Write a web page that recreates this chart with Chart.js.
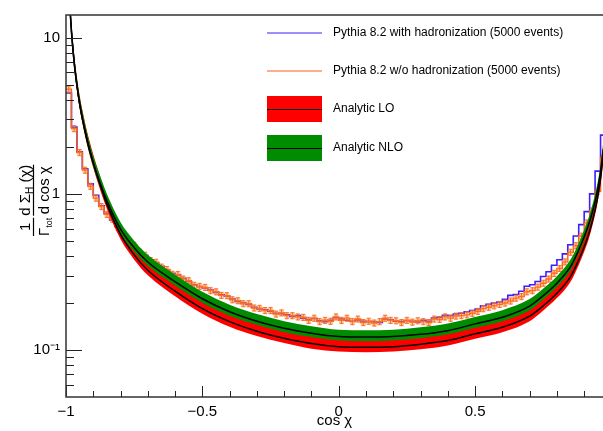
<!DOCTYPE html>
<html>
<head>
<meta charset="utf-8">
<script src="https://cdn.jsdelivr.net/npm/chart.js@4.4.1/dist/chart.umd.min.js"></script>
<style>
  html, body { margin: 0; padding: 0; background: #fff; }
</style>
</head>
<body>
<canvas id="monChart" width="603" height="431"></canvas>
<script>
// binning des histogrammes Pythia
const binStart = -1;
const binWidth = 0.02;

// Pythia 8.2 avec hadronisation (5000 events)
const avecHadronisation = [
  4.43, 2.68, 1.86, 1.45, 1.16, 0.98, 0.84, 0.75, 0.68, 0.62,
  0.551, 0.505, 0.466, 0.430, 0.403, 0.379, 0.361, 0.344, 0.325, 0.310,
  0.303, 0.288, 0.275, 0.262, 0.254, 0.250, 0.242, 0.234, 0.226, 0.222,
  0.212, 0.205, 0.200, 0.196, 0.188, 0.183, 0.181, 0.177, 0.172, 0.171,
  0.168, 0.164, 0.166, 0.160, 0.157, 0.159, 0.154, 0.152, 0.155, 0.161,
  0.158, 0.155, 0.153, 0.156, 0.153, 0.152, 0.151, 0.150, 0.158, 0.156,
  0.153, 0.152, 0.154, 0.153, 0.151, 0.155, 0.153, 0.160, 0.162, 0.167,
  0.166, 0.170, 0.172, 0.176, 0.179, 0.183, 0.192, 0.196, 0.200, 0.203,
  0.211, 0.224, 0.227, 0.238, 0.256, 0.262, 0.275, 0.296, 0.317, 0.349,
  0.379, 0.413, 0.472, 0.537, 0.636, 0.770, 1.00, 1.40, 2.38
];

// Pythia 8.2 sans hadronisation (5000 events)
const sansHadronisation = [
  4.69, 2.62, 1.84, 1.42, 1.12, 0.94, 0.83, 0.74, 0.69, 0.61,
  0.556, 0.500, 0.470, 0.425, 0.405, 0.375, 0.365, 0.340, 0.328, 0.306,
  0.305, 0.285, 0.278, 0.260, 0.256, 0.252, 0.240, 0.236, 0.224, 0.223,
  0.210, 0.207, 0.198, 0.198, 0.186, 0.185, 0.179, 0.179, 0.170, 0.173,
  0.166, 0.166, 0.163, 0.162, 0.155, 0.160, 0.152, 0.155, 0.153, 0.163,
  0.155, 0.160, 0.152, 0.158, 0.150, 0.153, 0.149, 0.152, 0.160, 0.155,
  0.154, 0.150, 0.155, 0.151, 0.154, 0.152, 0.150, 0.158, 0.157, 0.163,
  0.160, 0.165, 0.166, 0.168, 0.172, 0.177, 0.184, 0.188, 0.192, 0.196,
  0.200, 0.206, 0.215, 0.220, 0.236, 0.240, 0.253, 0.268, 0.285, 0.310,
  0.333, 0.367, 0.423, 0.466, 0.537, 0.652, 0.778, 1.04, 1.70
];
const erreurRelative = 0.045;

// courbes analytiques (valeur centrale + bande)
const cosChi = [-0.985, -0.98, -0.97, -0.96, -0.95, -0.94, -0.92, -0.9, -0.88, -0.85,
  -0.8, -0.75, -0.7, -0.6, -0.5, -0.4, -0.3, -0.2, -0.1, 0,
  0.1, 0.2, 0.3, 0.4, 0.5, 0.6, 0.7, 0.75, 0.8, 0.85,
  0.88, 0.9, 0.92, 0.94, 0.95, 0.96, 0.97];
const lo = [15.1, 11.0, 6.94, 4.97, 3.79, 3.05, 2.12, 1.58, 1.22, 0.86,
  0.55, 0.407, 0.324, 0.238, 0.184, 0.152, 0.132, 0.119, 0.110, 0.105,
  0.104, 0.105, 0.109, 0.115, 0.127, 0.140, 0.165, 0.192, 0.231, 0.295,
  0.377, 0.458, 0.579, 0.790, 0.964, 1.25, 1.76];
const loHaut = [17.1, 12.4, 7.84, 5.62, 4.28, 3.45, 2.40, 1.79, 1.38, 0.972,
  0.622, 0.460, 0.366, 0.269, 0.208, 0.172, 0.149, 0.134, 0.124, 0.119,
  0.118, 0.119, 0.123, 0.130, 0.144, 0.158, 0.186, 0.217, 0.261, 0.333,
  0.426, 0.518, 0.654, 0.893, 1.09, 1.41, 1.99];
const loBas = [14.0, 10.2, 6.45, 4.62, 3.52, 2.84, 1.97, 1.47, 1.13, 0.800,
  0.512, 0.379, 0.301, 0.221, 0.171, 0.141, 0.123, 0.111, 0.102, 0.0977,
  0.0967, 0.0977, 0.101, 0.107, 0.118, 0.130, 0.153, 0.179, 0.215, 0.274,
  0.351, 0.426, 0.538, 0.735, 0.897, 1.16, 1.64];
const nlo = [15.1, 11.0, 6.94, 4.97, 3.79, 3.05, 2.12, 1.58, 1.24, 0.903,
  0.594, 0.452, 0.366, 0.274, 0.213, 0.176, 0.153, 0.138, 0.128, 0.122,
  0.121, 0.122, 0.126, 0.133, 0.147, 0.162, 0.191, 0.223, 0.268, 0.342,
  0.437, 0.531, 0.666, 0.893, 1.08, 1.39, 1.94];
const nloHaut = [16.8, 12.2, 7.70, 5.52, 4.21, 3.39, 2.35, 1.75, 1.38, 1.00,
  0.659, 0.502, 0.406, 0.304, 0.236, 0.195, 0.170, 0.153, 0.142, 0.135,
  0.134, 0.135, 0.140, 0.148, 0.163, 0.180, 0.212, 0.248, 0.297, 0.380,
  0.485, 0.589, 0.739, 0.991, 1.20, 1.54, 2.15];
const nloBas = [14.3, 10.4, 6.56, 4.70, 3.58, 2.88, 2.00, 1.49, 1.17, 0.853,
  0.561, 0.427, 0.346, 0.259, 0.201, 0.166, 0.145, 0.130, 0.121, 0.115,
  0.114, 0.115, 0.119, 0.126, 0.139, 0.153, 0.180, 0.211, 0.253, 0.323,
  0.413, 0.502, 0.629, 0.844, 1.02, 1.31, 1.83];

// axes
const xTicks = [-1, -0.5, 0, 0.5];
const xMinorTicks = [-0.9, -0.8, -0.7, -0.6, -0.4, -0.3, -0.2, -0.1, 0.1, 0.2, 0.3, 0.4, 0.6, 0.7, 0.8, 0.9];
const yTicks = [0.1, 1, 10];
const yTickLabels = ['10\u207B\u00B9', '1', '10'];
const yMinorTicks = [0.06, 0.07, 0.08, 0.09, 0.2, 0.3, 0.4, 0.5, 0.6, 0.7, 0.8, 0.9, 2, 3, 4, 5, 6, 7, 8, 9];

const FONT = '"Liberation Sans", Arial, Helvetica, sans-serif';
const BLEU = 'rgb(60, 30, 255)';
const ORANGE = 'rgb(255, 95, 15)';
const ROUGE = '#ff0000';
const VERT = '#008c00';

function histoPoints(vals) {
  const pts = vals.map((v, i) => ({ x: binStart + i * binWidth, y: v }));
  pts.push({ x: binStart + vals.length * binWidth, y: vals[vals.length - 1] });
  return pts;
}
function courbePoints(vals) {
  return vals.map((v, i) => ({ x: cosChi[i], y: v }));
}

// barres d'erreur de l'histogramme orange
const erreursPlugin = {
  id: 'erreurs',
  afterDatasetDraw(chart, args) {
    if (args.index !== 1) return;
    const { ctx, chartArea: a, scales: { x, y } } = chart;
    ctx.save();
    ctx.beginPath();
    ctx.rect(a.left, a.top, a.right - a.left, a.bottom - a.top);
    ctx.clip();
    sansHadronisation.forEach((v, i) => {
      const cx = x.getPixelForValue(binStart + (i + 0.5) * binWidth);
      const yh = y.getPixelForValue(v * (1 + erreurRelative));
      const yb = y.getPixelForValue(v * (1 - erreurRelative));
      ctx.fillStyle = 'rgba(255, 140, 60, 0.45)';
      ctx.fillRect(cx - 2.5, yh, 5, yb - yh);
      ctx.strokeStyle = 'rgba(255, 100, 20, 0.9)';
      ctx.lineWidth = 1;
      ctx.beginPath();
      ctx.moveTo(cx, yh); ctx.lineTo(cx, yb);
      ctx.moveTo(cx - 2, yh); ctx.lineTo(cx + 2, yh);
      ctx.moveTo(cx - 2, yb); ctx.lineTo(cx + 2, yb);
      ctx.stroke();
    });
    ctx.restore();
  }
};

// cadre + graduations style ROOT (vers l'intérieur)
const cadrePlugin = {
  id: 'cadre',
  afterDatasetsDraw(chart) {
    const { ctx, chartArea: a, scales: { x, y } } = chart;
    ctx.save();
    ctx.strokeStyle = '#222';
    ctx.lineWidth = 1;
    ctx.beginPath();
    yTicks.forEach(v => { const p = Math.round(y.getPixelForValue(v)) + 0.5; ctx.moveTo(a.left, p); ctx.lineTo(a.left + 16, p); });
    yMinorTicks.forEach(v => { const p = Math.round(y.getPixelForValue(v)) + 0.5; ctx.moveTo(a.left, p); ctx.lineTo(a.left + 8, p); });
    xTicks.forEach(v => { const p = Math.round(x.getPixelForValue(v)) + 0.5; ctx.moveTo(p, a.bottom); ctx.lineTo(p, a.bottom - 11); });
    xMinorTicks.forEach(v => { const p = Math.round(x.getPixelForValue(v)) + 0.5; ctx.moveTo(p, a.bottom); ctx.lineTo(p, a.bottom - 6); });
    ctx.stroke();
    ctx.lineWidth = 1.5;
    ctx.strokeStyle = '#333';
    ctx.beginPath();
    ctx.moveTo(a.right, a.top); ctx.lineTo(a.left, a.top);
    ctx.lineTo(a.left, a.bottom); ctx.lineTo(a.right, a.bottom);
    ctx.stroke();
    ctx.restore();
  }
};

// légende style TLegend
const legendePlugin = {
  id: 'legende',
  afterDraw(chart) {
    const { ctx } = chart;
    const ds = chart.data.datasets;
    const x0 = 267, x1 = 322, xt = 333;
    ctx.save();
    ctx.font = '12px ' + FONT;
    ctx.textBaseline = 'middle';
    ctx.fillStyle = '#000';

    ctx.strokeStyle = BLEU; ctx.lineWidth = 1.2;
    ctx.beginPath(); ctx.moveTo(x0, 33); ctx.lineTo(x1, 33); ctx.stroke();
    ctx.fillText(ds[0].label, xt, 33);

    ctx.strokeStyle = ORANGE; ctx.lineWidth = 1.2;
    ctx.beginPath(); ctx.moveTo(x0, 71); ctx.lineTo(x1, 71); ctx.stroke();
    ctx.fillText(ds[1].label, xt, 71);

    [[2, ROUGE, 109], [4, VERT, 148]].forEach(([i, c, yc]) => {
      ctx.fillStyle = c;
      ctx.fillRect(x0, yc - 13, x1 - x0, 26);
      ctx.strokeStyle = '#000'; ctx.lineWidth = 1;
      ctx.beginPath(); ctx.moveTo(x0, yc + 0.5); ctx.lineTo(x1, yc + 0.5); ctx.stroke();
      ctx.fillStyle = '#000';
      ctx.fillText(ds[i].label, xt, yc);
    });
    ctx.restore();
  }
};

// titre de l'axe y : 1/Γ_tot dΣ_H(χ)/d cos χ
function largeur(ctx, runs) {
  let w = 0;
  runs.forEach(r => { ctx.font = r.s + 'px ' + FONT; w += ctx.measureText(r.t).width; });
  return w;
}
function ecrire(ctx, runs, u, base) {
  runs.forEach(r => {
    ctx.font = r.s + 'px ' + FONT;
    ctx.fillText(r.t, u, base + (r.dy || 0));
    u += ctx.measureText(r.t).width;
  });
}
function fraction(ctx, num, den, u0) {
  const wn = largeur(ctx, num), wd = largeur(ctx, den);
  const w = Math.max(wn, wd);
  ecrire(ctx, num, u0 + (w - wn) / 2, -4);
  ecrire(ctx, den, u0 + (w - wd) / 2, 15);
  ctx.lineWidth = 1.2;
  ctx.beginPath(); ctx.moveTo(u0, 0); ctx.lineTo(u0 + w, 0); ctx.stroke();
  return u0 + w;
}
const titreYPlugin = {
  id: 'titreY',
  afterDraw(chart) {
    const { ctx } = chart;
    ctx.save();
    ctx.translate(33.5, 236);
    ctx.rotate(-Math.PI / 2);
    ctx.fillStyle = '#000';
    ctx.strokeStyle = '#000';
    ctx.textBaseline = 'alphabetic';
    let u = fraction(ctx, [{ t: '1', s: 15 }], [{ t: '\u0393', s: 15 }, { t: 'tot', s: 9, dy: 3 }], 0);
    fraction(ctx,
      [{ t: 'd ', s: 15 }, { t: '\u03A3', s: 15 }, { t: 'H', s: 10, dy: 3 }, { t: ' (\u03C7)', s: 15 }],
      [{ t: 'd cos \u03C7', s: 15 }], u + 2);
    ctx.restore();
  }
};

const ctx = document.getElementById('monChart').getContext('2d');
new Chart(ctx, {
  type: 'line',
  data: {
    datasets: [
      { label: 'Pythia 8.2 with hadronization (5000 events)', data: histoPoints(avecHadronisation),
        borderColor: BLEU, borderWidth: 1.6, stepped: true, pointRadius: 0, fill: false, order: 5 },
      { label: 'Pythia 8.2 w/o hadronization (5000 events)', data: histoPoints(sansHadronisation),
        borderColor: ORANGE, borderWidth: 1.4, stepped: true, pointRadius: 0, fill: false, order: 4 },
      { label: 'Analytic LO', data: courbePoints(loHaut), borderColor: 'rgba(0,0,0,0)', borderWidth: 0,
        backgroundColor: ROUGE, fill: '+1', cubicInterpolationMode: 'monotone', pointRadius: 0, order: 3 },
      { label: 'LO bas', data: courbePoints(loBas), borderColor: 'rgba(0,0,0,0)', borderWidth: 0,
        fill: false, cubicInterpolationMode: 'monotone', pointRadius: 0, order: 3 },
      { label: 'Analytic NLO', data: courbePoints(nloHaut), borderColor: 'rgba(0,0,0,0)', borderWidth: 0,
        backgroundColor: VERT, fill: '+1', cubicInterpolationMode: 'monotone', pointRadius: 0, order: 2 },
      { label: 'NLO bas', data: courbePoints(nloBas), borderColor: 'rgba(0,0,0,0)', borderWidth: 0,
        fill: false, cubicInterpolationMode: 'monotone', pointRadius: 0, order: 2 },
      { label: 'LO', data: courbePoints(lo), borderColor: '#000', borderWidth: 1.5,
        fill: false, cubicInterpolationMode: 'monotone', pointRadius: 0, order: 1 },
      { label: 'NLO', data: courbePoints(nlo), borderColor: '#000', borderWidth: 1.5,
        fill: false, cubicInterpolationMode: 'monotone', pointRadius: 0, order: 0 }
    ]
  },
  options: {
    responsive: false,
    animation: false,
    devicePixelRatio: 1,
    layout: { padding: { top: 5, right: 0, bottom: 0, left: 0 } },
    plugins: {
      legend: { display: false },
      tooltip: { enabled: false },
      filler: { propagate: false }
    },
    scales: {
      x: {
        type: 'linear', min: -1, max: 0.969,
        grid: { display: false, drawTicks: false },
        border: { display: false },
        afterBuildTicks: s => { s.ticks = xTicks.map(v => ({ value: v })); },
        afterFit: s => { s.height = 34; },
        ticks: {
          padding: 6, autoSkip: false, maxRotation: 0, color: '#000',
          font: { family: FONT, size: 15 },
          callback: v => String(v).replace('-', '\u2212')
        },
        title: { display: true, text: 'cos \u03C7', color: '#000', font: { family: FONT, size: 15 }, padding: { top: 0, bottom: 1 } }
      },
      y: {
        type: 'logarithmic', min: 0.05, max: 14,
        grid: { display: false, drawTicks: false },
        border: { display: false },
        afterBuildTicks: s => { s.ticks = yTicks.map(v => ({ value: v })); },
        afterFit: s => { s.width = 66; },
        ticks: {
          padding: 6, autoSkip: false, color: '#000',
          font: { family: FONT, size: 15 },
          callback: (v, i) => yTickLabels[i]
        }
      }
    }
  },
  plugins: [erreursPlugin, cadrePlugin, legendePlugin, titreYPlugin]
});
</script>
</body>
</html>
